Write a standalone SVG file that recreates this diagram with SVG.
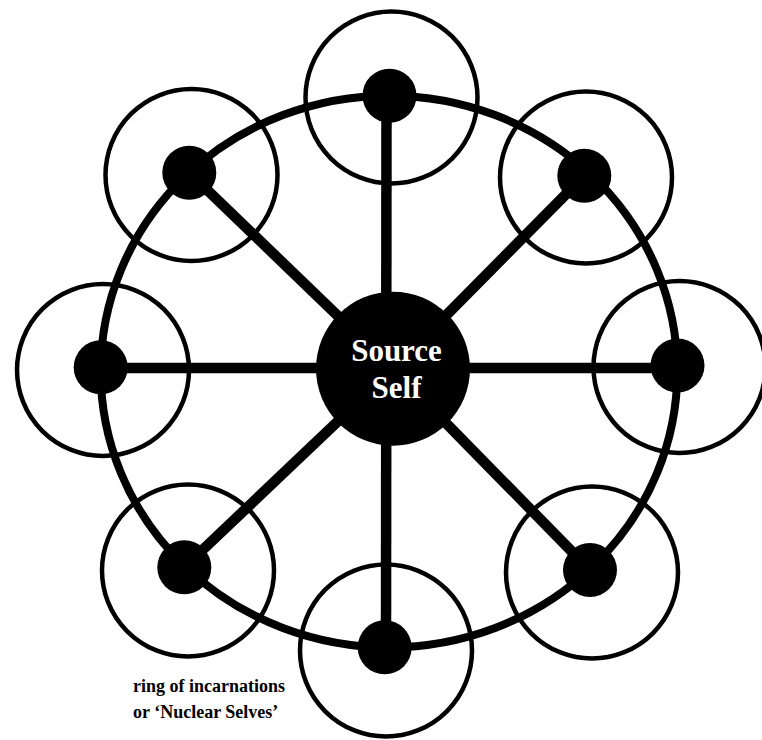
<svg xmlns="http://www.w3.org/2000/svg" width="762" height="740" viewBox="0 0 762 740">
<style>
.halo{fill:none;stroke:#000;stroke-width:4.5}
.dot{fill:#000}
.spoke{stroke:#000;stroke-width:10.5;stroke-linecap:butt}
.ring{fill:none;stroke:#000;stroke-width:8}
.ctext{font-family:"Liberation Serif","Times New Roman",serif;font-weight:bold;font-size:31px;fill:#fff;text-anchor:middle}
.label{font-family:"Liberation Serif","Times New Roman",serif;font-weight:bold;font-size:18px;fill:#000}
</style>
<rect width="762" height="740" fill="#fff"/>
<g id="halos">
<circle class="halo" cx="391.5" cy="97.5" r="86"/>
<circle class="halo" cx="103" cy="370" r="86"/>
<circle class="halo" cx="679.5" cy="367" r="86"/>
<circle class="halo" cx="386" cy="650.5" r="86"/>
<circle class="halo" cx="191.5" cy="175" r="86"/>
<circle class="halo" cx="586" cy="177.5" r="86"/>
<circle class="halo" cx="188" cy="570.5" r="86"/>
<circle class="halo" cx="592" cy="572.5" r="86"/>
</g>
<g id="connectors">
<ellipse class="ring" cx="389" cy="371.5" rx="288.3" ry="275.8"/>
<line class="spoke" x1="386.5" y1="96" x2="386" y2="647"/>
<line class="spoke" x1="100.7" y1="368" x2="677.3" y2="368"/>
<line class="spoke" x1="189.3" y1="172.7" x2="393" y2="369"/>
<line class="spoke" x1="584.3" y1="175.7" x2="393" y2="369"/>
<line class="spoke" x1="184.3" y1="567.3" x2="393" y2="369"/>
<line class="spoke" x1="590" y1="570" x2="393" y2="369"/>
</g>
<g id="node-top"><circle class="dot" cx="389.5" cy="95.7" r="27"/></g>
<g id="node-left"><circle class="dot" cx="100.7" cy="367.3" r="27"/></g>
<g id="node-right"><circle class="dot" cx="677.5" cy="365.5" r="27"/></g>
<g id="node-bottom"><circle class="dot" cx="384.7" cy="647.3" r="27"/></g>
<g id="node-topleft"><circle class="dot" cx="189.3" cy="172.7" r="27"/></g>
<g id="node-topright"><circle class="dot" cx="584.3" cy="175.7" r="27"/></g>
<g id="node-bottomleft"><circle class="dot" cx="184.3" cy="567.3" r="27"/></g>
<g id="node-bottomright"><circle class="dot" cx="590" cy="570" r="27"/></g>
<g id="node-source">
<circle class="dot" cx="393" cy="368.7" r="77"/>
<text class="ctext" x="396.5" y="361">Source</text>
<text class="ctext" x="396.5" y="398">Self</text>
</g>
<g id="label">
<text class="label" x="133" y="692">ring of incarnations</text>
<text class="label" x="133" y="718">or ‘Nuclear Selves’</text>
</g>
</svg>
